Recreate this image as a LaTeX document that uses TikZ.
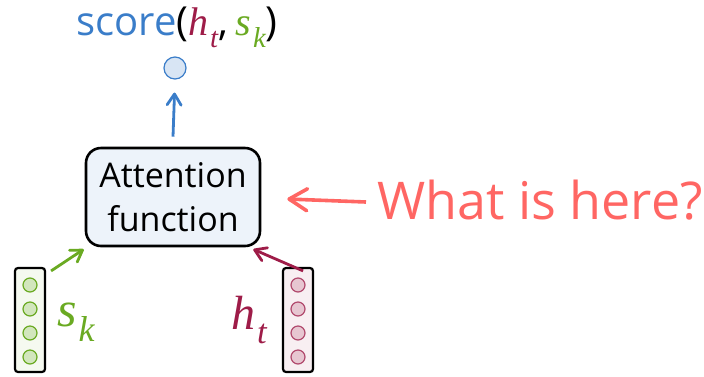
\documentclass[tikz,border=0pt]{standalone}
\usepackage{fontspec}
\setmainfont{Open Sans}
\newfontfamily\varfont{Liberation Serif}
\usepackage{tikz}
\usetikzlibrary{arrows.meta}
\definecolor{scoreblue}{HTML}{3A7DC9}
\definecolor{hred}{HTML}{9E1C48}
\definecolor{sgreen}{HTML}{6AAA22}
\definecolor{askred}{HTML}{FF6663}
\newcommand{\varsub}[2]{{\varfont\itshape #1\kern0.04em\raisebox{-0.3em}{\scalebox{0.72}{#2}}}}
\tikzstyle{vecbox}=[draw, line width=2.2pt, rounded corners=3pt, minimum width=30pt, minimum height=104pt, inner sep=0pt]
\tikzstyle{unit}=[circle, draw, line width=1.2pt, minimum size=14pt, inner sep=0pt]
\tikzstyle{edge}=[line width=2.8pt]
\tikzstyle{dedge}=[edge,-{Straight Barb[round,length=11pt,width=14pt]}]

\begin{document}
\begin{tikzpicture}[x=1pt,y=-1pt]
	\useasboundingbox (0,0) rectangle (704,376);

	\node[font=\fontsize{40}{44}\selectfont] (score) at (177,27) {\textcolor{scoreblue}{score}(\textcolor{hred}{\varsub{h}{t}},\kern0.2em\textcolor{sgreen}{\varsub{s}{k}})};
	\node[unit, draw=scoreblue, fill=scoreblue!20, minimum size=22pt] (out) at (175,68) {};

	\node[draw, line width=2.6pt, rounded corners=15pt, fill=scoreblue!9, minimum width=174pt, minimum height=98pt, align=center, font=\fontsize{34}{44}\selectfont] (attn) at (173,197) {Attention\\function};

	\node[vecbox, fill=sgreen!7] (sk) at (30,320) {};
	\node[vecbox, fill=hred!7] (ht) at (298,320) {};
	\foreach \y [count=\i] in {-35,-11,13,37} {
		\node[unit, draw=sgreen, fill=sgreen!30] (sk\i) at (30,320+\y) {};
		\node[unit, draw=hred!80, fill=hred!25] (ht\i) at (298,320+\y) {};
	}
	\node[text=sgreen, font=\fontsize{50}{54}\selectfont] (sklab) at (76,322) {\varsub{s}{k}};
	\node[text=hred, font=\fontsize{48}{52}\selectfont] (htlab) at (249,320) {\varsub{h}{t}};

	\node[text=askred, font=\fontsize{52}{56}\selectfont, anchor=west] (ask) at (374,200) {What is here?};

	\draw[dedge, scoreblue, shorten >=13pt] (attn.north) ++(0,-10) coordinate (aout) (aout) -- (out.south);
	\draw[dedge, sgreen] ([xshift=5pt,yshift=-4pt]sk.north east) -- ([xshift=-1pt,yshift=-2pt]attn.south west);
	\draw[dedge, hred] ([xshift=-11pt,yshift=-4pt]ht.north east) -- ([xshift=-8pt,yshift=-2pt]attn.south east);
	\draw[edge, line width=3.6pt, askred, -{Straight Barb[round,length=18pt,width=22pt]}] ([xshift=-8pt,yshift=-2pt]ask.west) -- ([xshift=26pt,yshift=-2pt]attn.east);
\end{tikzpicture}
\end{document}
